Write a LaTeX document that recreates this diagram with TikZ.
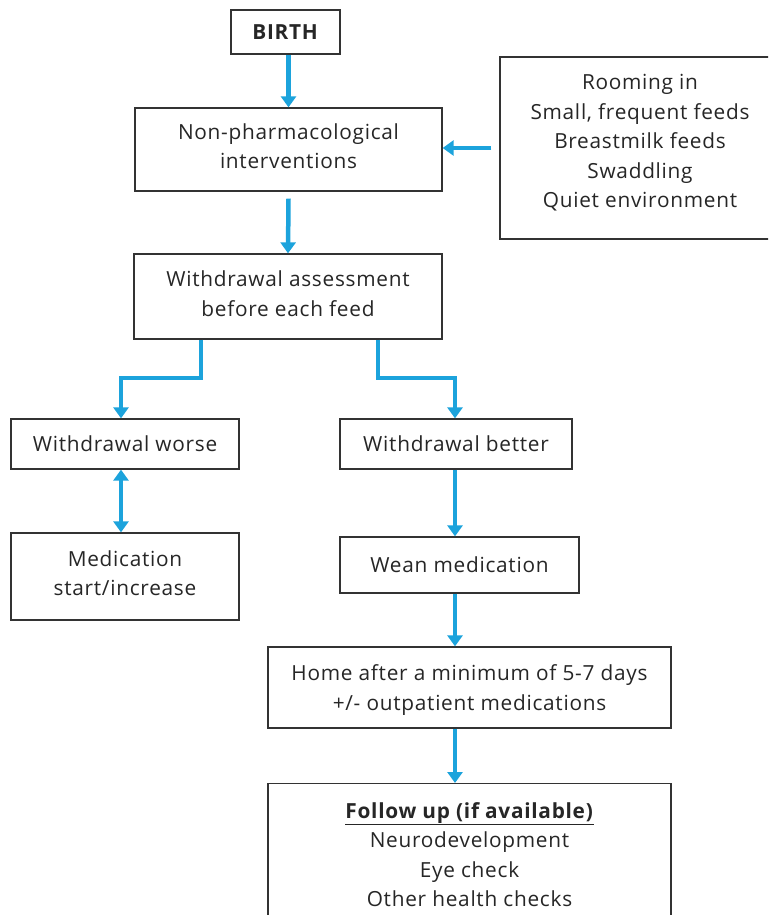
\documentclass[tikz,border=0pt]{standalone}
\usepackage{fontspec}
\setmainfont[LetterSpace=3.5]{Open Sans}
\usetikzlibrary{arrows.meta}
\definecolor{arrc}{HTML}{1CA3DC}
\definecolor{boxc}{HTML}{333333}
\definecolor{txtc}{HTML}{262626}
\newcommand\dpfix[1]{\rule[-#1]{0pt}{#1}}
\newcommand\htfix[1]{\rule{0pt}{#1}}
\tikzset{
  box/.style={draw=boxc, line width=1.3pt, fill=white, align=center, inner sep=0pt, text=txtc,
    font=\fontsize{20.8}{29.5}\selectfont},
  arr/.style={draw=arrc, line width=4.5pt, -{Triangle[width=15pt,length=11pt]}},
  darr/.style={draw=arrc, line width=4.5pt, {Triangle[width=15pt,length=11pt]}-{Triangle[width=15pt,length=11pt]}}
}
\begin{document}
\begin{tikzpicture}[x=1pt,y=-1pt]
\useasboundingbox (0,0) rectangle (768,915);
\clip (0,0) rectangle (768,915);
\node[box, minimum width=109pt, minimum height=44pt] (birth) at (285.5,32) {\textbf{BIRTH}};
\node[box, minimum width=307pt, minimum height=83pt] (nonph) at (288.5,149.5) {Non-pharmacological\\interventions\dpfix{7pt}};
\node[box, minimum width=280pt, minimum height=182pt] (rbox) at (640,148) {Rooming in\\Small, frequent feeds\\Breastmilk feeds\\Swaddling\\Quiet environment\dpfix{14pt}};
\node[box, minimum width=308pt, minimum height=85pt] (assess) at (288,296.5) {Withdrawal assessment\\before each feed\dpfix{6pt}};
\node[box, minimum width=228pt, minimum height=50pt] (worse) at (125,444) {Withdrawal worse};
\node[box, minimum width=228pt, minimum height=87pt] (med) at (125,576.5) {Medication\\start/increase\dpfix{6.5pt}};
\node[box, minimum width=232pt, minimum height=50pt] (better) at (456,444) {Withdrawal better};
\node[box, minimum width=239pt, minimum height=56pt] (wean) at (459.5,565) {Wean medication};
\node[box, minimum width=403pt, minimum height=81pt] (home) at (469.5,687.5) {\htfix{21pt}Home after a minimum of 5-7 days\\+/- outpatient medications};
\node[box, minimum width=403pt, inner ysep=18.5pt, anchor=north] (follow) at (469.5,783) {\underline{\textbf{Follow up (if available)}}\\Neurodevelopment\\Eye check\\Other health checks};
\coordinate (aL) at (201,378);
\coordinate (wL) at (121,378);
\coordinate (aR) at (378,378);
\coordinate (bR) at (455,378);
\draw[arr] (birth.south -| nonph.north) -- (nonph.north);
\draw[arr] ([xshift=-8pt]rbox.west) -- (rbox.west -| nonph.east);
\draw[arr] ([yshift=-7pt]nonph.south) -- (assess.north);
\draw[arr] (assess.south -| aL) -- (aL) -- (wL) -- (wL |- worse.north);
\draw[arr] (assess.south -| aR) -- (aR) -- (bR) -- (bR |- better.north);
\draw[darr] (wL |- worse.south) -- (wL |- med.north);
\draw[arr] (bR |- better.south) -- (bR |- wean.north);
\draw[arr] (bR |- wean.south) -- (bR |- home.north);
\draw[arr] (bR |- home.south) -- (bR |- follow.north);
\end{tikzpicture}
\end{document}
